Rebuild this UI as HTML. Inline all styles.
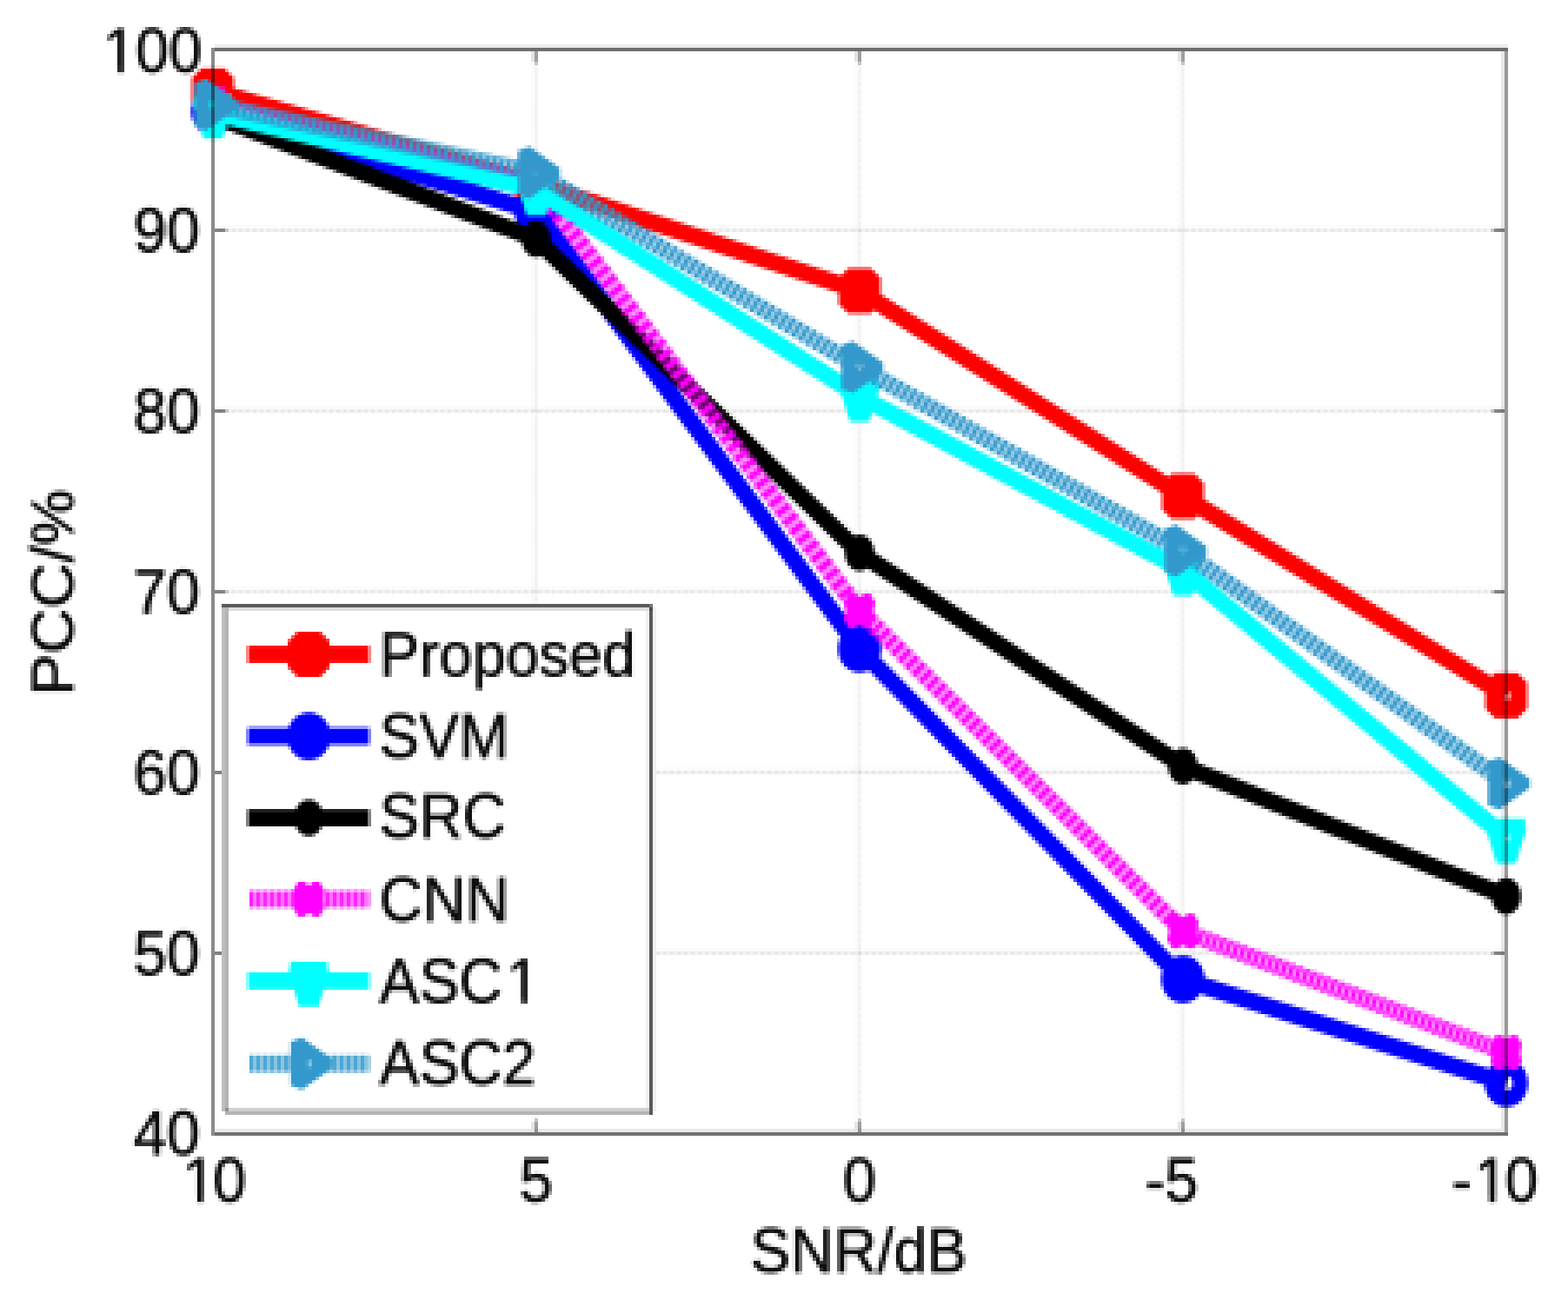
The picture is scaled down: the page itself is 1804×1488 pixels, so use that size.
<!DOCTYPE html>
<html lang="en"><head><meta charset="utf-8"><title>PCC versus SNR</title>
<style>html,body{margin:0;padding:0;background:#fff}body{width:1804px;height:1488px;overflow:hidden}svg{display:block}text{font-family:"Liberation Sans",sans-serif;fill:#0d0d0d;stroke:#0d0d0d;stroke-width:1px;stroke-linejoin:round}</style>
</head><body>
<svg width="1804" height="1488" viewBox="0 0 1804 1488">
<rect width="1804" height="1488" fill="#fff"/>
<defs><filter id="px" x="0" y="0" width="1804" height="1488" filterUnits="userSpaceOnUse" primitiveUnits="userSpaceOnUse" color-interpolation-filters="sRGB">
<feConvolveMatrix in="SourceGraphic" order="4" kernelMatrix="1 1 1 1 1 1 1 1 1 1 1 1 1 1 1 1" divisor="16" targetX="1" targetY="1" edgeMode="duplicate" preserveAlpha="true" result="avg"/>
<feFlood x="4" y="4" width="1" height="1" flood-color="#000" result="dot"/>
<feComposite in="dot" in2="dot" operator="over" x="3" y="3" width="4" height="4" result="cell"/>
<feTile in="cell" result="mask"/>
<feComposite in="avg" in2="mask" operator="in" result="smp"/>
<feMorphology in="smp" operator="dilate" radius="1" result="d0"/>
<feOffset in="d0" dx="1" dy="0" result="d1"/>
<feOffset in="d0" dx="0" dy="1" result="d2"/>
<feOffset in="d0" dx="1" dy="1" result="d3"/>
<feMerge><feMergeNode in="d3"/><feMergeNode in="d2"/><feMergeNode in="d1"/><feMergeNode in="d0"/></feMerge>
</filter></defs>
<g id="chart">
<rect width="1804" height="1488" fill="#fff"/>
<g fill="none" stroke="#000" stroke-width="4" stroke-dasharray="4 4">
<line x1="617" y1="59" x2="617" y2="1303" stroke-opacity="0.035"/>
<line x1="617" y1="59" x2="617" y2="1303" stroke-opacity="0.05" stroke-dashoffset="4"/>
<line x1="613" y1="59" x2="613" y2="1303" stroke-opacity="0.015" stroke-dasharray="none"/>
<line x1="989" y1="59" x2="989" y2="1303" stroke-opacity="0.035"/>
<line x1="989" y1="59" x2="989" y2="1303" stroke-opacity="0.05" stroke-dashoffset="4"/>
<line x1="985" y1="59" x2="985" y2="1303" stroke-opacity="0.015" stroke-dasharray="none"/>
<line x1="1361" y1="59" x2="1361" y2="1303" stroke-opacity="0.035"/>
<line x1="1361" y1="59" x2="1361" y2="1303" stroke-opacity="0.05" stroke-dashoffset="4"/>
<line x1="1357" y1="59" x2="1357" y2="1303" stroke-opacity="0.015" stroke-dasharray="none"/>
<line x1="247" y1="265" x2="1731" y2="265" stroke-opacity="0.05"/>
<line x1="247" y1="265" x2="1731" y2="265" stroke-opacity="0.085" stroke-dashoffset="4"/>
<line x1="247" y1="261" x2="1731" y2="261" stroke-opacity="0.015" stroke-dasharray="none"/>
<line x1="247" y1="473" x2="1731" y2="473" stroke-opacity="0.05"/>
<line x1="247" y1="473" x2="1731" y2="473" stroke-opacity="0.085" stroke-dashoffset="4"/>
<line x1="247" y1="469" x2="1731" y2="469" stroke-opacity="0.015" stroke-dasharray="none"/>
<line x1="247" y1="681" x2="1731" y2="681" stroke-opacity="0.05"/>
<line x1="247" y1="681" x2="1731" y2="681" stroke-opacity="0.085" stroke-dashoffset="4"/>
<line x1="247" y1="677" x2="1731" y2="677" stroke-opacity="0.015" stroke-dasharray="none"/>
<line x1="247" y1="889" x2="1731" y2="889" stroke-opacity="0.05"/>
<line x1="247" y1="889" x2="1731" y2="889" stroke-opacity="0.085" stroke-dashoffset="4"/>
<line x1="247" y1="885" x2="1731" y2="885" stroke-opacity="0.015" stroke-dasharray="none"/>
<line x1="247" y1="1097" x2="1731" y2="1097" stroke-opacity="0.05"/>
<line x1="247" y1="1097" x2="1731" y2="1097" stroke-opacity="0.085" stroke-dashoffset="4"/>
<line x1="247" y1="1093" x2="1731" y2="1093" stroke-opacity="0.015" stroke-dasharray="none"/>
</g>
<g fill="#000">
<rect x="615" y="59" width="4" height="12" fill="#000" fill-opacity="0.350"/>
<rect x="615" y="71" width="4" height="4" fill="#000" fill-opacity="0.180"/>
<rect x="611" y="59" width="4" height="12" fill="#000" fill-opacity="0.090"/>
<rect x="615" y="1291" width="4" height="12" fill="#000" fill-opacity="0.350"/>
<rect x="615" y="1287" width="4" height="4" fill="#000" fill-opacity="0.180"/>
<rect x="611" y="1291" width="4" height="8" fill="#000" fill-opacity="0.090"/>
<rect x="987" y="59" width="4" height="12" fill="#000" fill-opacity="0.350"/>
<rect x="987" y="71" width="4" height="4" fill="#000" fill-opacity="0.180"/>
<rect x="983" y="59" width="4" height="12" fill="#000" fill-opacity="0.090"/>
<rect x="987" y="1291" width="4" height="12" fill="#000" fill-opacity="0.350"/>
<rect x="987" y="1287" width="4" height="4" fill="#000" fill-opacity="0.180"/>
<rect x="983" y="1291" width="4" height="8" fill="#000" fill-opacity="0.090"/>
<rect x="1359" y="59" width="4" height="12" fill="#000" fill-opacity="0.350"/>
<rect x="1359" y="71" width="4" height="4" fill="#000" fill-opacity="0.180"/>
<rect x="1355" y="59" width="4" height="12" fill="#000" fill-opacity="0.090"/>
<rect x="1359" y="1291" width="4" height="12" fill="#000" fill-opacity="0.350"/>
<rect x="1359" y="1287" width="4" height="4" fill="#000" fill-opacity="0.180"/>
<rect x="1355" y="1291" width="4" height="8" fill="#000" fill-opacity="0.090"/>
<rect x="247" y="263" width="12" height="4" fill="#000" fill-opacity="0.450"/>
<rect x="259" y="263" width="4" height="4" fill="#000" fill-opacity="0.150"/>
<rect x="1719" y="263" width="12" height="4" fill="#000" fill-opacity="0.450"/>
<rect x="1715" y="263" width="4" height="4" fill="#000" fill-opacity="0.150"/>
<rect x="247" y="471" width="12" height="4" fill="#000" fill-opacity="0.450"/>
<rect x="259" y="471" width="4" height="4" fill="#000" fill-opacity="0.150"/>
<rect x="1719" y="471" width="12" height="4" fill="#000" fill-opacity="0.450"/>
<rect x="1715" y="471" width="4" height="4" fill="#000" fill-opacity="0.150"/>
<rect x="247" y="679" width="12" height="4" fill="#000" fill-opacity="0.450"/>
<rect x="259" y="679" width="4" height="4" fill="#000" fill-opacity="0.150"/>
<rect x="1719" y="679" width="12" height="4" fill="#000" fill-opacity="0.450"/>
<rect x="1715" y="679" width="4" height="4" fill="#000" fill-opacity="0.150"/>
<rect x="247" y="887" width="12" height="4" fill="#000" fill-opacity="0.450"/>
<rect x="259" y="887" width="4" height="4" fill="#000" fill-opacity="0.150"/>
<rect x="1719" y="887" width="12" height="4" fill="#000" fill-opacity="0.450"/>
<rect x="1715" y="887" width="4" height="4" fill="#000" fill-opacity="0.150"/>
<rect x="247" y="1095" width="12" height="4" fill="#000" fill-opacity="0.450"/>
<rect x="259" y="1095" width="4" height="4" fill="#000" fill-opacity="0.150"/>
<rect x="1719" y="1095" width="12" height="4" fill="#000" fill-opacity="0.450"/>
<rect x="1715" y="1095" width="4" height="4" fill="#000" fill-opacity="0.150"/>
</g>
<g>
<polyline points="245.0,104.5 617.0,211.5 989.0,334.7 1361.0,571.0 1733.0,800.5" fill="none" stroke="#ff0000" stroke-width="19.5" stroke-linejoin="round"/>
<path d="M232.0 78.5 L258.0 78.5 L269.0 89.5 L269.0 119.5 L258.0 130.5 L232.0 130.5 L221.0 119.5 L221.0 89.5Z M241.0 100.0 h8.0 v9.0 h-8.0Z" fill="#ff0000" fill-rule="evenodd"/>
<path d="M604.0 185.5 L630.0 185.5 L641.0 196.5 L641.0 226.5 L630.0 237.5 L604.0 237.5 L593.0 226.5 L593.0 196.5Z M613.0 207.0 h8.0 v9.0 h-8.0Z" fill="#ff0000" fill-rule="evenodd"/>
<path d="M976.0 308.7 L1002.0 308.7 L1013.0 319.7 L1013.0 349.7 L1002.0 360.7 L976.0 360.7 L965.0 349.7 L965.0 319.7Z M985.0 330.2 h8.0 v9.0 h-8.0Z" fill="#ff0000" fill-rule="evenodd"/>
<path d="M1348.0 545.0 L1374.0 545.0 L1385.0 556.0 L1385.0 586.0 L1374.0 597.0 L1348.0 597.0 L1337.0 586.0 L1337.0 556.0Z M1357.0 566.5 h8.0 v9.0 h-8.0Z" fill="#ff0000" fill-rule="evenodd"/>
<path d="M1720.0 774.5 L1746.0 774.5 L1757.0 785.5 L1757.0 815.5 L1746.0 826.5 L1720.0 826.5 L1709.0 815.5 L1709.0 785.5Z M1729.0 796.0 h8.0 v9.0 h-8.0Z" fill="#ff0000" fill-rule="evenodd"/>
</g>
<g>
<polyline points="245.0,128.0 617.0,244.0 989.0,746.5 1361.0,1127.0 1733.0,1246.5" fill="none" stroke="#0000ff" stroke-width="19.5" stroke-linejoin="round"/>
<path d="M220.0 128.0 a25 27.5 0 1 0 50 0 a25 27.5 0 1 0 -50 0Z M237.5 128.0 a7.5 8.5 0 1 0 15 0 a7.5 8.5 0 1 0 -15 0Z" fill="#0000ff" fill-rule="evenodd"/>
<path d="M592.0 244.0 a25 27.5 0 1 0 50 0 a25 27.5 0 1 0 -50 0Z M609.5 244.0 a7.5 8.5 0 1 0 15 0 a7.5 8.5 0 1 0 -15 0Z" fill="#0000ff" fill-rule="evenodd"/>
<path d="M964.0 746.5 a25 27.5 0 1 0 50 0 a25 27.5 0 1 0 -50 0Z M981.5 746.5 a7.5 8.5 0 1 0 15 0 a7.5 8.5 0 1 0 -15 0Z" fill="#0000ff" fill-rule="evenodd"/>
<path d="M1336.0 1127.0 a25 27.5 0 1 0 50 0 a25 27.5 0 1 0 -50 0Z M1353.5 1127.0 a7.5 8.5 0 1 0 15 0 a7.5 8.5 0 1 0 -15 0Z" fill="#0000ff" fill-rule="evenodd"/>
<path d="M1708.0 1246.5 a25 27.5 0 1 0 50 0 a25 27.5 0 1 0 -50 0Z M1725.5 1246.5 a7.5 8.5 0 1 0 15 0 a7.5 8.5 0 1 0 -15 0Z" fill="#0000ff" fill-rule="evenodd"/>
</g>
<g>
<polyline points="245.0,133.0 617.0,275.0 989.0,636.2 1361.0,881.7 1733.0,1031.4" fill="none" stroke="#000000" stroke-width="19.5" stroke-linejoin="round"/>
<ellipse cx="245.0" cy="133.0" rx="17" ry="21" fill="#000000"/>
<ellipse cx="617.0" cy="275.0" rx="17" ry="21" fill="#000000"/>
<ellipse cx="989.0" cy="636.2" rx="17" ry="21" fill="#000000"/>
<ellipse cx="1361.0" cy="881.7" rx="17" ry="21" fill="#000000"/>
<ellipse cx="1733.0" cy="1031.4" rx="17" ry="21" fill="#000000"/>
</g>
<g>
<polyline points="245.0,120.0 617.0,213.0 989.0,703.0 1361.0,1071.5 1733.0,1211.4" fill="none" stroke="#ff00ff" stroke-opacity="0.45" stroke-width="19.5" stroke-linejoin="round"/>
<line x1="245.0" y1="120.0" x2="617.0" y2="213.0" stroke="#ff00ff" stroke-width="19.5" stroke-dasharray="4.123 4.123" stroke-dashoffset="-2.062"/>
<line x1="617.0" y1="213.0" x2="989.0" y2="703.0" stroke="#ff00ff" stroke-width="19.5" stroke-dasharray="6.615 6.615" stroke-dashoffset="-3.308"/>
<line x1="989.0" y1="703.0" x2="1361.0" y2="1071.5" stroke="#ff00ff" stroke-width="19.5" stroke-dasharray="5.630 5.630" stroke-dashoffset="-2.815"/>
<line x1="1361.0" y1="1071.5" x2="1733.0" y2="1211.4" stroke="#ff00ff" stroke-width="19.5" stroke-dasharray="4.274 4.274" stroke-dashoffset="-2.137"/>
<path d="M233.0 100.0 L239.0 100.0 L245.0 104.0 L251.0 100.0 L257.0 100.0 L263.0 110.0 L261.0 120.0 L263.0 130.0 L257.0 140.0 L251.0 140.0 L245.0 136.0 L239.0 140.0 L233.0 140.0 L227.0 130.0 L229.0 120.0 L227.0 110.0Z" fill="#ff00ff" fill-rule="evenodd"/>
<path d="M605.0 193.0 L611.0 193.0 L617.0 197.0 L623.0 193.0 L629.0 193.0 L635.0 203.0 L633.0 213.0 L635.0 223.0 L629.0 233.0 L623.0 233.0 L617.0 229.0 L611.0 233.0 L605.0 233.0 L599.0 223.0 L601.0 213.0 L599.0 203.0Z" fill="#ff00ff" fill-rule="evenodd"/>
<path d="M977.0 683.0 L983.0 683.0 L989.0 687.0 L995.0 683.0 L1001.0 683.0 L1007.0 693.0 L1005.0 703.0 L1007.0 713.0 L1001.0 723.0 L995.0 723.0 L989.0 719.0 L983.0 723.0 L977.0 723.0 L971.0 713.0 L973.0 703.0 L971.0 693.0Z" fill="#ff00ff" fill-rule="evenodd"/>
<path d="M1349.0 1051.5 L1355.0 1051.5 L1361.0 1055.5 L1367.0 1051.5 L1373.0 1051.5 L1379.0 1061.5 L1377.0 1071.5 L1379.0 1081.5 L1373.0 1091.5 L1367.0 1091.5 L1361.0 1087.5 L1355.0 1091.5 L1349.0 1091.5 L1343.0 1081.5 L1345.0 1071.5 L1343.0 1061.5Z" fill="#ff00ff" fill-rule="evenodd"/>
<path d="M1721.0 1191.4 L1727.0 1191.4 L1733.0 1195.4 L1739.0 1191.4 L1745.0 1191.4 L1751.0 1201.4 L1749.0 1211.4 L1751.0 1221.4 L1745.0 1231.4 L1739.0 1231.4 L1733.0 1227.4 L1727.0 1231.4 L1721.0 1231.4 L1715.0 1221.4 L1717.0 1211.4 L1715.0 1201.4Z" fill="#ff00ff" fill-rule="evenodd"/>
</g>
<g>
<polyline points="245.0,130.0 617.0,218.5 989.0,456.0 1361.0,656.0 1733.0,964.0" fill="none" stroke="#00ffff" stroke-width="19.5" stroke-linejoin="round"/>
<path d="M224.0 108.0 L266.0 108.0 L268.0 121.0 L256.0 159.5 L234.0 159.5 L222.0 121.0Z M241.5 126.0 h7.0 v8.0 h-7.0Z" fill="#00ffff" fill-rule="evenodd"/>
<path d="M596.0 196.5 L638.0 196.5 L640.0 209.5 L628.0 248.0 L606.0 248.0 L594.0 209.5Z M613.5 214.5 h7.0 v8.0 h-7.0Z" fill="#00ffff" fill-rule="evenodd"/>
<path d="M968.0 434.0 L1010.0 434.0 L1012.0 447.0 L1000.0 485.5 L978.0 485.5 L966.0 447.0Z M985.5 452.0 h7.0 v8.0 h-7.0Z" fill="#00ffff" fill-rule="evenodd"/>
<path d="M1340.0 634.0 L1382.0 634.0 L1384.0 647.0 L1372.0 685.5 L1350.0 685.5 L1338.0 647.0Z M1357.5 652.0 h7.0 v8.0 h-7.0Z" fill="#00ffff" fill-rule="evenodd"/>
<path d="M1712.0 942.0 L1754.0 942.0 L1756.0 955.0 L1744.0 993.5 L1722.0 993.5 L1710.0 955.0Z M1729.5 960.0 h7.0 v8.0 h-7.0Z" fill="#00ffff" fill-rule="evenodd"/>
</g>
<g>
<polyline points="245.0,120.5 617.0,198.5 989.0,422.6 1361.0,633.8 1733.0,901.5" fill="none" stroke="#3399cc" stroke-opacity="0.49" stroke-width="19.5" stroke-linejoin="round"/>
<line x1="245.0" y1="120.5" x2="617.0" y2="198.5" stroke="#3399cc" stroke-width="19.5" stroke-dasharray="4.087 4.087" stroke-dashoffset="-2.043"/>
<line x1="617.0" y1="198.5" x2="989.0" y2="422.6" stroke="#3399cc" stroke-width="19.5" stroke-dasharray="4.670 4.670" stroke-dashoffset="-2.335"/>
<line x1="989.0" y1="422.6" x2="1361.0" y2="633.8" stroke="#3399cc" stroke-width="19.5" stroke-dasharray="4.600 4.600" stroke-dashoffset="-2.300"/>
<line x1="1361.0" y1="633.8" x2="1733.0" y2="901.5" stroke="#3399cc" stroke-width="19.5" stroke-dasharray="4.928 4.928" stroke-dashoffset="-2.464"/>
<path d="M224.0 95.5 L237.0 90.5 L272.0 115.5 L272.0 125.5 L237.0 150.5 L224.0 145.5Z M241.5 116.5 h7.0 v8.0 h-7.0Z" fill="#3399cc" fill-rule="evenodd"/>
<path d="M596.0 173.5 L609.0 168.5 L644.0 193.5 L644.0 203.5 L609.0 228.5 L596.0 223.5Z M613.5 194.5 h7.0 v8.0 h-7.0Z" fill="#3399cc" fill-rule="evenodd"/>
<path d="M968.0 397.6 L981.0 392.6 L1016.0 417.6 L1016.0 427.6 L981.0 452.6 L968.0 447.6Z M985.5 418.6 h7.0 v8.0 h-7.0Z" fill="#3399cc" fill-rule="evenodd"/>
<path d="M1340.0 608.8 L1353.0 603.8 L1388.0 628.8 L1388.0 638.8 L1353.0 663.8 L1340.0 658.8Z M1357.5 629.8 h7.0 v8.0 h-7.0Z" fill="#3399cc" fill-rule="evenodd"/>
<path d="M1712.0 876.5 L1725.0 871.5 L1760.0 896.5 L1760.0 906.5 L1725.0 931.5 L1712.0 926.5Z M1729.5 897.5 h7.0 v8.0 h-7.0Z" fill="#3399cc" fill-rule="evenodd"/>
</g>
<g fill="#000">
<rect x="243" y="55" width="4" height="1252" fill="#000" fill-opacity="0.460"/>
<rect x="247" y="55" width="1488" height="4" fill="#000" fill-opacity="0.570"/>
<rect x="247" y="51" width="1488" height="4" fill="#000" fill-opacity="0.080"/>
<rect x="247" y="1303" width="1488" height="4" fill="#000" fill-opacity="0.560"/>
<rect x="247" y="1299" width="1484" height="4" fill="#000" fill-opacity="0.090"/>
<rect x="1731" y="59" width="4" height="1244" fill="#000" fill-opacity="0.400"/>
<rect x="1727" y="59" width="4" height="1240" fill="#000" fill-opacity="0.090"/>
</g>
<rect x="259" y="695" width="492" height="588" fill="#fff"/>
<rect x="255" y="695" width="492" height="4" fill="#5a5a5a"/>
<rect x="263" y="699" width="484" height="4" fill="#dedede"/>
<rect x="747" y="699" width="4" height="584" fill="#5a5a5a"/>
<rect x="747" y="695" width="4" height="4" fill="#757575"/>
<rect x="747" y="699" width="4" height="4" fill="#4d4d4d"/>
<rect x="743" y="703" width="4" height="572" fill="#f0f0f0"/>
<rect x="751" y="699" width="4" height="580" fill="#f0f0f0"/>
<rect x="255" y="699" width="4" height="580" fill="#bebebe"/>
<rect x="259" y="699" width="4" height="580" fill="#b4b4b4"/>
<rect x="263" y="1275" width="484" height="4" fill="#d0d0d0"/>
<rect x="259" y="1279" width="488" height="4" fill="#b4b4b4"/>
<rect x="259" y="1275" width="4" height="4" fill="#909090"/>
<line x1="285" y1="753.0" x2="425" y2="753.0" stroke="#ff0000" stroke-width="19.5"/>
<path d="M342.3 727.0 L368.3 727.0 L379.3 738.0 L379.3 768.0 L368.3 779.0 L342.3 779.0 L331.3 768.0 L331.3 738.0Z M351.3 748.5 h8.0 v9.0 h-8.0Z" fill="#ff0000" fill-rule="evenodd"/>
<text transform="translate(436.5,777.5) scale(0.950,1)" font-size="72.5" text-anchor="start">Proposed</text>
<line x1="285" y1="847.3" x2="425" y2="847.3" stroke="#0000ff" stroke-width="19.5"/>
<path d="M330.3 847.3 a25 27.5 0 1 0 50 0 a25 27.5 0 1 0 -50 0Z M347.8 847.3 a7.5 8.5 0 1 0 15 0 a7.5 8.5 0 1 0 -15 0Z" fill="#0000ff" fill-rule="evenodd"/>
<text transform="translate(436.5,871.8) scale(0.950,1)" font-size="72.5" text-anchor="start">SVM</text>
<line x1="285" y1="941.2" x2="425" y2="941.2" stroke="#000000" stroke-width="19.5"/>
<ellipse cx="355.3" cy="941.2" rx="17" ry="21" fill="#000000"/>
<text transform="translate(436.5,964.2) scale(0.950,1)" font-size="72.5" text-anchor="start">SRC</text>
<line x1="287" y1="1034.7" x2="425" y2="1034.7" stroke="#ff00ff" stroke-opacity="0.45" stroke-width="19.5"/>
<line x1="287" y1="1034.7" x2="425" y2="1034.7" stroke="#ff00ff" stroke-opacity="0.75" stroke-width="19.5" stroke-dasharray="5 3"/>
<path d="M343.3 1014.7 L349.3 1014.7 L355.3 1018.7 L361.3 1014.7 L367.3 1014.7 L373.3 1024.7 L371.3 1034.7 L373.3 1044.7 L367.3 1054.7 L361.3 1054.7 L355.3 1050.7 L349.3 1054.7 L343.3 1054.7 L337.3 1044.7 L339.3 1034.7 L337.3 1024.7Z" fill="#ff00ff" fill-rule="evenodd"/>
<text transform="translate(436.5,1060.2) scale(0.950,1)" font-size="72.5" text-anchor="start">CNN</text>
<line x1="285" y1="1128.8" x2="425" y2="1128.8" stroke="#00ffff" stroke-width="19.5"/>
<path d="M334.3 1106.8 L376.3 1106.8 L378.3 1119.8 L366.3 1158.3 L344.3 1158.3 L332.3 1119.8Z M351.8 1124.8 h7.0 v8.0 h-7.0Z" fill="#00ffff" fill-rule="evenodd"/>
<text transform="translate(436.5,1153.8) scale(0.950,1)" font-size="72.5" text-anchor="start">ASC<tspan dx="5">1</tspan></text>
<line x1="287" y1="1224.0" x2="425" y2="1224.0" stroke="#3399cc" stroke-opacity="0.49" stroke-width="19.5"/>
<line x1="287" y1="1224.0" x2="425" y2="1224.0" stroke="#3399cc" stroke-opacity="0.75" stroke-width="19.5" stroke-dasharray="5 3"/>
<path d="M334.3 1199.0 L347.3 1194.0 L382.3 1219.0 L382.3 1229.0 L347.3 1254.0 L334.3 1249.0Z M351.8 1220.0 h7.0 v8.0 h-7.0Z" fill="#3399cc" fill-rule="evenodd"/>
<text transform="translate(436.5,1247.5) scale(0.950,1)" font-size="72.5" text-anchor="start">ASC2</text>
<text transform="translate(231.6,83.0) scale(0.950,1)" font-size="72.5" text-anchor="end"><tspan dx="1">1</tspan><tspan dx="-1">00</tspan></text>
<text transform="translate(230.0,290.0) scale(0.950,1)" font-size="72.5" text-anchor="end">90</text>
<text transform="translate(230.0,498.0) scale(0.950,1)" font-size="72.5" text-anchor="end">80</text>
<text transform="translate(230.0,706.0) scale(0.950,1)" font-size="72.5" text-anchor="end">70</text>
<text transform="translate(230.0,914.0) scale(0.950,1)" font-size="72.5" text-anchor="end">60</text>
<text transform="translate(230.0,1122.0) scale(0.950,1)" font-size="72.5" text-anchor="end">50</text>
<text transform="translate(230.0,1329.0) scale(0.950,1)" font-size="72.5" text-anchor="end">40</text>
<text transform="translate(243.3,1383.0) scale(0.950,1)" font-size="72.5" text-anchor="middle"><tspan dx="3.5">1</tspan><tspan dx="-3.5">0</tspan></text>
<text transform="translate(617.0,1383.0) scale(0.950,1)" font-size="72.5" text-anchor="middle">5</text>
<text transform="translate(989.0,1383.0) scale(0.950,1)" font-size="72.5" text-anchor="middle">0</text>
<text transform="translate(1348.0,1383.0) scale(0.950,1)" font-size="72.5" text-anchor="middle">-5</text>
<text transform="translate(1720.0,1383.0) scale(0.950,1)" font-size="72.5" text-anchor="middle">-<tspan dx="3.5">1</tspan><tspan dx="-3.5">0</tspan></text>
<text transform="translate(988.0,1463.5) scale(0.950,1)" font-size="72.5" text-anchor="middle">SNR/dB</text>
<text transform="translate(83.5,682.0) scale(0.950,1) rotate(-90)" font-size="72.5" text-anchor="middle">PCC/%</text>
<g transform="translate(232.5,83.0) scale(0.950,1)" fill="#fff"><rect x="-116.42" y="-6.73" width="14.33" height="9.73" fill="#fff"/><rect x="-94.97" y="-6.73" width="13.95" height="9.73" fill="#fff"/></g>
<g transform="translate(245.0,1383.0) scale(0.950,1)" fill="#fff"><rect x="-33.28" y="-6.73" width="14.34" height="9.73" fill="#fff"/><rect x="-11.83" y="-6.73" width="13.95" height="9.73" fill="#fff"/></g>
<g transform="translate(1720.0,1383.0) scale(0.950,1)" fill="#fff"><rect x="-21.21" y="-6.73" width="14.34" height="9.73" fill="#fff"/><rect x="0.24" y="-6.73" width="13.95" height="9.73" fill="#fff"/></g>
<g transform="translate(436.5,1153.8) scale(0.950,1)" fill="#fff"><rect x="157.61" y="-6.73" width="14.34" height="9.73" fill="#fff"/><rect x="179.06" y="-6.73" width="13.95" height="9.73" fill="#fff"/></g>
</g>
<use href="#chart" x="0" y="0" filter="url(#px)"/>
</svg>
</body></html>
